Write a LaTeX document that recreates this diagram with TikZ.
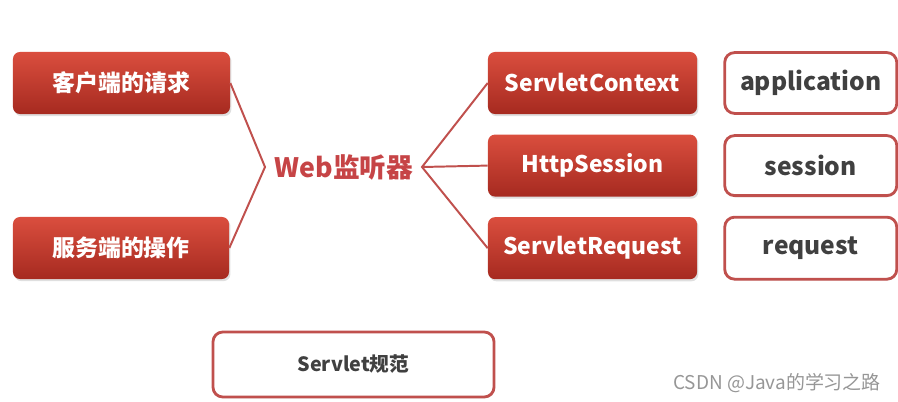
\documentclass[tikz,border=0pt]{standalone}
\usepackage{fontspec}
\setmainfont{Noto Sans CJK SC}
\usetikzlibrary{positioning,shadows}
\definecolor{boxtop}{RGB}{218,78,62}
\definecolor{boxbot}{RGB}{166,42,32}
\definecolor{linered}{RGB}{192,80,77}
\definecolor{webred}{RGB}{198,68,70}
\definecolor{txtgray}{RGB}{64,64,64}
\definecolor{markgray}{RGB}{150,150,150}
\tikzset{redbox/.style={rounded corners=5pt, top color=boxtop, bottom color=boxbot, text=white,
  font=\bfseries\fontsize{16.3}{18}\selectfont, minimum height=1.55cm, inner sep=0pt,
  drop shadow={opacity=0.25, shadow xshift=1pt, shadow yshift=-1.5pt}}}
\tikzset{whitebox/.style={draw=linered, line width=2pt, rounded corners=7pt, fill=white, text=txtgray,
  font=\bfseries\fontsize{17.5}{19}\selectfont, inner sep=0pt,
  drop shadow={opacity=0.15, shadow xshift=0.5pt, shadow yshift=-1pt}}}
\tikzset{link/.style={draw=linered, line width=1.4pt}}

\begin{document}
\begin{tikzpicture}[x=0.025cm, y=-0.025cm]
\useasboundingbox (0,0) rectangle (898,401);
\node[redbox, minimum width=5.425cm] (kh) at (121.5,83) {客户端的请求};
\node[redbox, minimum width=5.4cm] (fw) at (121,248) {服务端的操作};
\node[text=webred, font=\bfseries\fontsize{19}{21}\selectfont] (web) at (344,167) {Web监听器};
\node[redbox, minimum width=5.225cm] (sc) at (592.5,83) {ServletContext};
\node[redbox, minimum width=5.225cm][below=0.5cm of sc] (hs) {HttpSession};
\node[redbox, minimum width=5.225cm][below=0.5cm of hs] (sr) {ServletRequest};
\node[whitebox, minimum width=4.3cm, minimum height=1.52cm][right=0.65cm of sc] (app) {application};
\node[whitebox, minimum width=4.3cm, minimum height=1.5cm][right=0.65cm of hs] (ses) {session};
\node[whitebox, minimum width=4.3cm, minimum height=1.55cm][right=0.65cm of sr] (req) {request};
\node[whitebox, minimum width=7.025cm, minimum height=1.625cm,
  font=\bfseries\fontsize{14}{16}\selectfont] (spec) at (353.5,364.5) {Servlet规范};
\node[text=markgray, font=\fontsize{13.5}{15}\selectfont] (mark) at (777,383) {CSDN @Java的学习之路};

\coordinate (lj) at (265,167);
\coordinate (rj) at (422,167);
\path[link] (kh.east) -- (lj) -- (fw.east);
\path[link] (sc.west) -- (rj) -- (sr.west)
  (rj) -- (hs.west);
\end{tikzpicture}
\end{document}
